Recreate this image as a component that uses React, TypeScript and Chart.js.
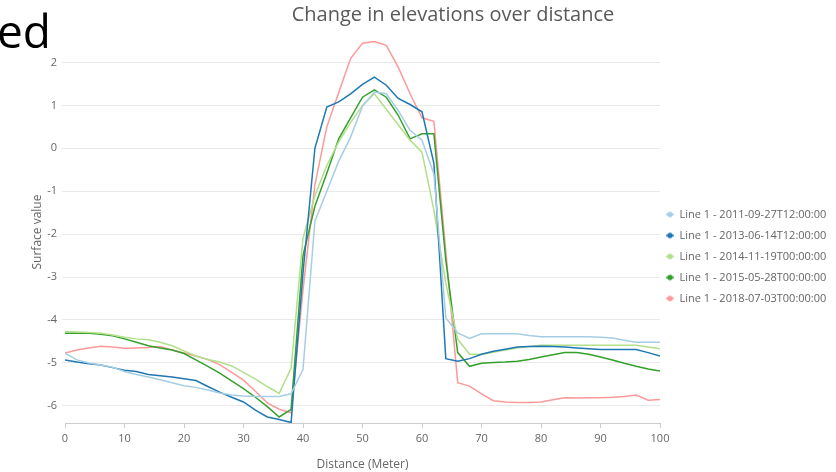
import React, { useEffect, useRef } from "react";
import { Chart, registerables } from "chart.js";

Chart.register(...registerables);

const chartTitle = "Change in elevations over distance";
const xAxisTitle = "Distance (Meter)";
const yAxisTitle = "Surface value";
const cutText = "ed";

const distances = [
  0, 2, 4, 6, 8, 10, 12, 14, 16, 18, 20, 22, 24, 26, 28, 30, 32, 34, 36, 38, 40,
  42, 44, 46, 48, 50, 52, 54, 56, 58, 60, 62, 64, 66, 68, 70, 72, 74, 76, 78, 80,
  82, 84, 86, 88, 90, 92, 94, 96, 98, 100,
];

const seriesLabels = [
  "Line 1 - 2011-09-27T12:00:00",
  "Line 1 - 2013-06-14T12:00:00",
  "Line 1 - 2014-11-19T00:00:00",
  "Line 1 - 2015-05-28T00:00:00",
  "Line 1 - 2018-07-03T00:00:00",
];

const elev2011 = [
  -4.77, -4.93, -5.0, -5.05, -5.1, -5.2, -5.27, -5.33, -5.39, -5.46, -5.53,
  -5.57, -5.63, -5.7, -5.75, -5.77, -5.78, -5.78, -5.78, -5.72, -5.15,
  -1.7, -1.0, -0.3, 0.26, 0.98, 1.31, 1.27, 0.88, 0.42, 0.19,
  -0.6, -3.95, -4.3, -4.43, -4.32, -4.32, -4.32, -4.32, -4.36, -4.39,
  -4.39, -4.39, -4.39, -4.39, -4.4, -4.42, -4.47, -4.52, -4.52, -4.52,
];

const elev2013 = [
  -4.93, -4.98, -5.02, -5.05, -5.11, -5.17, -5.2, -5.27, -5.3, -5.33, -5.37,
  -5.41, -5.55, -5.68, -5.8, -5.91, -6.1, -6.26, -6.32, -6.39, -2.9,
  0.0, 0.96, 1.08, 1.27, 1.49, 1.66, 1.47, 1.16, 1.02, 0.85,
  -0.35, -4.9, -4.96, -4.9, -4.8, -4.73, -4.68, -4.63, -4.62, -4.61,
  -4.62, -4.63, -4.65, -4.67, -4.69, -4.69, -4.69, -4.69, -4.76, -4.84,
];

const elev2014 = [
  -4.27, -4.28, -4.29, -4.31, -4.35, -4.4, -4.44, -4.46, -4.52, -4.6, -4.72,
  -4.84, -4.92, -4.98, -5.07, -5.22, -5.38, -5.55, -5.71, -5.12, -2.1,
  -1.1, -0.4, 0.15, 0.6, 1.0, 1.27, 0.91, 0.55, 0.19, -0.09,
  -1.44, -3.14, -4.45, -4.8, -4.8, -4.75, -4.7, -4.65, -4.62, -4.59,
  -4.59, -4.59, -4.59, -4.59, -4.59, -4.59, -4.59, -4.59, -4.63, -4.67,
];

const elev2015 = [
  -4.31, -4.31, -4.31, -4.33, -4.37, -4.44, -4.52, -4.6, -4.65, -4.7, -4.78,
  -4.93, -5.08, -5.24, -5.42, -5.6, -5.8, -6.02, -6.26, -6.08, -2.5,
  -1.35, -0.58, 0.22, 0.71, 1.19, 1.36, 1.19, 0.77, 0.22, 0.34,
  0.34, -2.6, -4.76, -5.08, -5.01, -4.99, -4.98, -4.96, -4.92, -4.86,
  -4.81, -4.76, -4.76, -4.8, -4.86, -4.93, -5.01, -5.08, -5.14, -5.19,
];

const elev2018 = [
  -4.77, -4.7, -4.65, -4.61, -4.63, -4.66, -4.65, -4.64, -4.62, -4.7, -4.77,
  -4.84, -4.92, -5.04, -5.22, -5.4, -5.66, -5.93, -6.08, -6.16, -3.3,
  -0.85, 0.5, 1.3, 2.09, 2.45, 2.49, 2.4, 1.89, 1.27, 0.71,
  0.63, -2.4, -5.46, -5.54, -5.72, -5.88, -5.91, -5.92, -5.92, -5.91,
  -5.86, -5.81, -5.82, -5.81, -5.81, -5.8, -5.78, -5.75, -5.87, -5.85,
];

const seriesValues = [elev2011, elev2013, elev2014, elev2015, elev2018];

const seriesColors = ["#a6cee3", "#1f78b4", "#b2df8a", "#33a02c", "#fb9a99"];

const FONT = "'Open Sans', 'Noto Sans', sans-serif";
const TEXT_GRAY = "#666666";

function makeMarker(color: string): HTMLCanvasElement {
  const c = document.createElement("canvas");
  c.width = 12;
  c.height = 8;
  const ctx = c.getContext("2d");
  if (ctx) {
    ctx.strokeStyle = color;
    ctx.lineWidth = 1.5;
    ctx.beginPath();
    ctx.moveTo(0, 4);
    ctx.lineTo(8, 4);
    ctx.stroke();
    ctx.fillStyle = color;
    ctx.beginPath();
    ctx.arc(4, 4, 2.7, 0, Math.PI * 2);
    ctx.fill();
  }
  return c;
}

export default function App() {
  const canvasRef = useRef<HTMLCanvasElement | null>(null);

  useEffect(() => {
    const canvas = canvasRef.current;
    if (!canvas) return;
    const markers = seriesColors.map(makeMarker);

    const chart = new Chart(canvas, {
      type: "line",
      data: {
        datasets: seriesValues.map((vals, i) => ({
          label: seriesLabels[i],
          data: distances.map((d, j) => ({ x: d, y: vals[j] })),
          borderColor: seriesColors[i],
          backgroundColor: seriesColors[i],
          borderWidth: 1.5,
          pointRadius: 0,
          pointHoverRadius: 0,
          tension: 0,
          fill: false,
        })),
      },
      options: {
        responsive: false,
        animation: false,
        layout: { padding: { top: 41, left: 0, right: 0, bottom: 0 } },
        plugins: {
          title: { display: false },
          tooltip: { enabled: false },
          legend: {
            position: "right",
            align: "center",
            maxWidth: 176,
            labels: {
              usePointStyle: true,
              pointStyleWidth: 4,
              padding: 10,
              color: TEXT_GRAY,
              font: { family: FONT, size: 11 },
              generateLabels: (ch: any) =>
                Chart.defaults.plugins.legend.labels
                  .generateLabels(ch)
                  .map((item: any, i: number) => ({
                    ...item,
                    pointStyle: markers[item.datasetIndex ?? i],
                  })),
            },
          },
        },
        scales: {
          x: {
            type: "linear",
            min: 0,
            max: 100,
            ticks: {
              stepSize: 10,
              color: TEXT_GRAY,
              font: { family: FONT, size: 11 },
              padding: 4,
              maxRotation: 0,
            },
            grid: { drawOnChartArea: false, tickLength: 5, color: "#cccccc" },
            border: { color: "#cccccc" },
            title: {
              display: true,
              text: xAxisTitle,
              color: TEXT_GRAY,
              font: { family: FONT, size: 12 },
              padding: { top: 0, bottom: 0 },
            },
            afterFit: (s: any) => {
              s.height = 49;
            },
          },
          y: {
            type: "linear",
            min: -6.4,
            max: 2.5,
            ticks: {
              stepSize: 1,
              color: TEXT_GRAY,
              font: { family: FONT, size: 11 },
              padding: 5,
            },
            afterBuildTicks: (s: any) => {
              s.ticks = s.ticks.filter((t: any) => Number.isInteger(t.value));
            },
            grid: { color: "#e9e9e9", tickLength: 3 },
            border: { display: false },
            title: {
              display: true,
              text: yAxisTitle,
              color: TEXT_GRAY,
              font: { family: FONT, size: 12 },
              padding: { top: 30, bottom: 0 },
            },
            afterFit: (s: any) => {
              s.width = 65;
            },
          },
        },
      },
    } as any);

    return () => chart.destroy();
  }, []);

  return (
    <div
      style={{
        position: "absolute",
        left: 0,
        top: 0,
        width: 836,
        height: 472,
        overflow: "hidden",
        background: "#ffffff",
      }}
    >
      <canvas
        ref={canvasRef}
        width={836}
        height={472}
        style={{ position: "absolute", left: 0, top: 0, display: "block" }}
      />
      <div
        style={{
          position: "absolute",
          left: -3,
          top: 8,
          fontFamily: FONT,
          fontSize: 46,
          lineHeight: "44px",
          color: "#000000",
          whiteSpace: "nowrap",
        }}
      >
        {cutText}
      </div>
      <div
        style={{
          position: "absolute",
          left: 453,
          top: 1,
          transform: "translateX(-50%)",
          fontFamily: FONT,
          fontSize: 20,
          lineHeight: "26px",
          color: "#595959",
          whiteSpace: "nowrap",
        }}
      >
        {chartTitle}
      </div>
    </div>
  );
}
